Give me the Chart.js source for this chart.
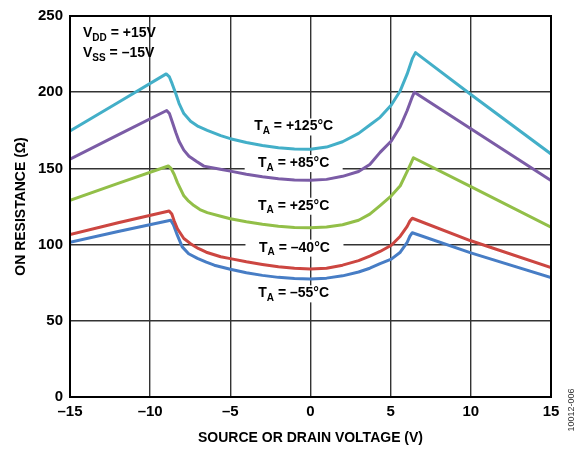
<!DOCTYPE html>
<html lang="en">
<head>
  <meta charset="UTF-8">
  <title>On Resistance vs Source or Drain Voltage</title>
  <script src="https://cdn.jsdelivr.net/npm/chart.js"></script>
  <style>
    html, body { margin: 0; padding: 0; background: #fff; }
    #wrap { width: 586px; height: 450px; }
  </style>
</head>
<body>
  <div id="wrap"><canvas id="ron-chart" width="586" height="450"></canvas></div>

  <script>
    // Axis ranges / ticks
    const xTicks = [-15, -10, -5, 0, 5, 10, 15];
    const yTicks = [0, 50, 100, 150, 200, 250];

    // Curves (source/drain voltage in V, on resistance in ohm)
    const v125 = [-15, -12, -9.0, -8.8, -8.63, -8.4, -8.2, -7.9, -7.48, -7.0, -6.44, -5.6, -5, -4, -3, -2, -1, 0, 1, 2, 3, 3.7, 4.34, 5.04, 5.6, 6.03, 6.35, 6.55, 10, 15];
    const r125 = [174.5, 193.2, 212, 210, 205.6, 199, 192.7, 186, 181, 177.5, 175, 171.5, 169.5, 167, 165, 163.5, 162.7, 162.5, 164, 167.5, 173, 178.5, 183.5, 191.6, 201, 212, 222, 226, 198.5, 159.5];

    const v85 = [-15, -12, -8.97, -8.8, -8.63, -8.4, -8.2, -7.9, -7.58, -7.1, -6.65, -5.63, -5, -4, -3, -2, -1, 0, 1, 2, 3, 3.7, 4.34, 5.04, 5.6, 6.03, 6.35, 6.48, 10, 15];
    const r85 = [156, 172, 188, 186, 180.8, 173.5, 167.8, 162, 158, 154.5, 151.5, 149.4, 148.2, 146.2, 144.5, 143.2, 142.4, 142.2, 142.8, 144.8, 148, 152.6, 160.5, 168, 177.5, 188, 197, 200, 176, 142];

    const v25 = [-15, -12, -8.87, -8.7, -8.5, -8.3, -7.9, -7.6, -7.27, -6.9, -6.44, -5.6, -5, -4, -3, -2, -1, 0, 1, 2, 3, 3.7, 4.34, 5.04, 5.6, 6.03, 6.25, 6.42, 10, 15];
    const r25 = [129, 140.2, 151.6, 150, 146, 140.7, 132, 128.5, 125.6, 123, 121, 118.6, 117, 115, 113.3, 112, 111.2, 111, 111.5, 113, 116, 120, 125.6, 132, 138.6, 148, 153, 157, 138, 111.5];

    const vM40 = [-15, -12, -8.82, -8.65, -8.5, -8.3, -7.9, -7.48, -7.0, -6.5, -5.6, -5, -4, -3, -2, -1, 0, 1, 2, 3, 3.7, 4.34, 5.04, 5.6, 6.03, 6.2, 6.35, 10, 15];
    const rM40 = [106.6, 114.3, 122, 120, 115.5, 110.4, 104, 100.6, 97.5, 95, 92, 90.8, 88.7, 87, 85.5, 84.5, 84, 84.5, 86.5, 89.5, 92.5, 95.5, 99.6, 105.5, 112, 115.5, 117.3, 102.5, 85];

    const vM55 = [-15, -12, -8.72, -8.55, -8.3, -8.0, -7.6, -7.05, -6.5, -6, -5, -4, -3, -2, -1, 0, 1, 2, 3, 3.7, 4.34, 5.04, 5.6, 6.03, 6.2, 6.35, 10, 15];
    const rM55 = [101.6, 108.6, 116, 113, 106, 98.5, 94, 91, 88.5, 86.5, 83.8, 81.5, 79.8, 78.5, 77.8, 77.5, 78, 79.5, 82, 84.5, 87.5, 90.5, 95, 101.5, 105.5, 107.8, 94.6, 78.4];

    const tempNames = ['+125°C', '+85°C', '+25°C', '–40°C', '–55°C'];

    const FONT = '"Liberation Sans", Arial, sans-serif';

    function pairs(xs, ys) {
      return xs.map((x, i) => ({ x: x, y: ys[i] }));
    }

    function dash(v) {
      return v < 0 ? '–' + Math.abs(v) : String(v);
    }

    // text like "T" + subscript "A" + " = +125°C", centred on (cx, cy)
    function subText(ctx, cx, cy, main, sub, rest, align) {
      const big = 'bold 14px ' + FONT;
      const small = 'bold 10px ' + FONT;
      ctx.font = big;
      const w1 = ctx.measureText(main).width;
      const w3 = ctx.measureText(rest).width;
      ctx.font = small;
      const w2 = ctx.measureText(sub).width;
      const total = w1 + w2 + w3;
      let x = align === 'left' ? cx : cx - total / 2;
      ctx.textBaseline = 'middle';
      ctx.textAlign = 'left';
      ctx.fillStyle = '#000';
      ctx.font = big;
      ctx.fillText(main, x, cy);
      ctx.font = small;
      ctx.fillText(sub, x + w1, cy + 5);
      ctx.font = big;
      ctx.fillText(rest, x + w1 + w2, cy);
    }

    // temperature labels sit in white boxes that break the grid
    const labelAnchors = [
      { x: -1.05, y: 177.5 },
      { x: -1.05, y: 153.5 },
      { x: -1.05, y: 125.5 },
      { x: -1.0, y: 98.0 },
      { x: -1.05, y: 68.0 }
    ];

    const annotations = {
      id: 'annotations',
      beforeDatasetsDraw(chart) {
        const { ctx, scales: { x, y } } = chart;
        ctx.save();
        ctx.fillStyle = '#fff';
        labelAnchors.forEach(a => {
          const cx = x.getPixelForValue(a.x);
          const cy = y.getPixelForValue(a.y);
          ctx.fillRect(cx - 49, cy - 8, 98, 17);
        });
        ctx.restore();
      },
      afterDatasetsDraw(chart) {
        const { ctx, chartArea, scales: { x, y } } = chart;
        ctx.save();
        labelAnchors.forEach((a, i) => {
          subText(ctx, x.getPixelForValue(a.x), y.getPixelForValue(a.y), 'T', 'A', ' = ' + tempNames[i]);
        });
        subText(ctx, chartArea.left + 13, 33, 'V', 'DD', ' = +15V', 'left');
        subText(ctx, chartArea.left + 13, 53, 'V', 'SS', ' = –15V', 'left');

        // frame
        ctx.strokeStyle = '#000';
        ctx.lineWidth = 2;
        ctx.strokeRect(chartArea.left, chartArea.top, chartArea.right - chartArea.left, chartArea.bottom - chartArea.top);

        // figure number at the right edge
        ctx.translate(572, 410);
        ctx.rotate(-Math.PI / 2);
        ctx.font = '9px ' + FONT;
        ctx.fillStyle = '#333';
        ctx.textAlign = 'center';
        ctx.textBaseline = 'middle';
        ctx.fillText('10012-006', 0, 0);
        ctx.restore();
      }
    };

    function curve(label, xs, ys, color) {
      return {
        label: label,
        data: pairs(xs, ys),
        borderColor: color,
        borderWidth: 3,
        borderJoinStyle: 'round',
        pointRadius: 0,
        fill: false,
        tension: 0
      };
    }

    const ctx = document.getElementById('ron-chart').getContext('2d');
    new Chart(ctx, {
      type: 'line',
      data: {
        datasets: [
          curve('TA = +125°C', v125, r125, '#43afc8'),
          curve('TA = +85°C', v85, r85, '#7b5ca6'),
          curve('TA = +25°C', v25, r25, '#92bf48'),
          curve('TA = –40°C', vM40, rM40, '#cc4641'),
          curve('TA = –55°C', vM55, rM55, '#477dc5')
        ]
      },
      options: {
        responsive: false,
        animation: false,
        layout: { padding: { left: 0, right: 35, top: 12, bottom: 0 } },
        plugins: { legend: { display: false }, tooltip: { enabled: false } },
        scales: {
          x: {
            type: 'linear',
            min: -15,
            max: 15,
            afterBuildTicks: s => { s.ticks = xTicks.map(v => ({ value: v })); },
            afterFit: s => { s.height = 53; },
            grid: { color: '#333', lineWidth: 1.4, drawTicks: false },
            border: { color: '#000', width: 2 },
            ticks: {
              color: '#000',
              padding: 6,
              font: { family: FONT, size: 15, weight: 'bold' },
              callback: v => dash(v)
            },
            title: {
              display: true,
              text: 'SOURCE OR DRAIN VOLTAGE (V)',
              color: '#000',
              font: { family: FONT, size: 14, weight: 'bold' },
              padding: { top: 0, bottom: 3 }
            }
          },
          y: {
            type: 'linear',
            min: 0,
            max: 250,
            afterBuildTicks: s => { s.ticks = yTicks.map(v => ({ value: v })); },
            afterFit: s => { s.width = 70; },
            grid: { color: '#333', lineWidth: 1.4, drawTicks: false },
            border: { color: '#000', width: 2 },
            ticks: {
              color: '#000',
              padding: 7,
              font: { family: FONT, size: 15, weight: 'bold' }
            },
            title: {
              display: true,
              text: 'ON RESISTANCE (Ω)',
              color: '#000',
              font: { family: FONT, size: 14, weight: 'bold' },
              padding: { top: 13, bottom: 0 }
            }
          }
        }
      },
      plugins: [annotations]
    });
  </script>
</body>
</html>
